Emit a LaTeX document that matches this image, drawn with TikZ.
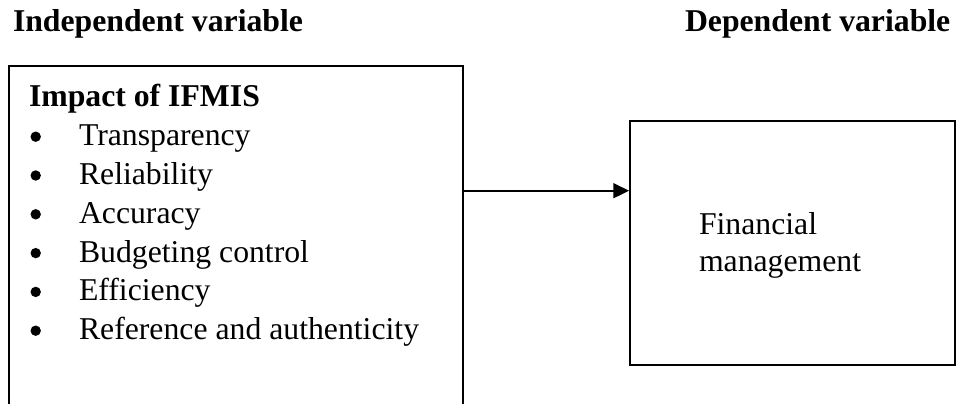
\documentclass[tikz,border=0pt]{standalone}
\usepackage{fontspec}
\setmainfont{Liberation Serif}
\usetikzlibrary{arrows.meta}
\begin{document}
\begin{tikzpicture}[x=0.75pt,y=-0.75pt,
  txt/.style={anchor=base west,inner sep=0pt,outer sep=0pt,font=\fontsize{23.8pt}{28pt}\selectfont},
  btxt/.style={txt,font=\fontsize{23.8pt}{28pt}\selectfont\bfseries},
  frame/.style={line width=1.4pt},
  arr/.style={line width=1.4pt,-{Triangle[length=11.8pt,width=11.2pt]}},
  dot/.style={fill=black}]
\useasboundingbox (0,0) rectangle (956,404);
% titles
\node[btxt] (ivtitle) at (13,31.7) {Independent variable};
\node[btxt] (dvtitle) at (685,31.7) {Dependent variable};
% left box (open at the bottom, runs past the page edge)
\node[inner sep=0pt,outer sep=0pt,minimum width=454.3*0.75pt,minimum height=338*0.75pt] (ivbox) at (236.0,235) {};
\draw[frame] (ivbox.south west) -- (ivbox.north west) -- (ivbox.north east) -- (ivbox.south east);
\node[btxt] (impact) at (29,106.7) {Impact of IFMIS};
\foreach \t [count=\k from 0] in {Transparency,Reliability,Accuracy,Budgeting control,Efficiency,Reference and authenticity}{
  \node[txt] (item\k) at (79,145.7+38.8*\k) {\t};
  \fill[dot] (35.7,136.7+38.8*\k) circle[radius=5.2*0.75pt];
}
% right box
\node[draw,frame,inner sep=0pt,minimum width=325*0.75pt,minimum height=244.3*0.75pt] (fmbox) at (792.5,242.85) {};
\node[txt] (fin) at (699,234.3) {Financial};
\node[txt] (mgmt) at (699,271.7) {management};
% connector
\coordinate (arrowy) at (0,190.7);
\draw[arr] (ivbox.east |- arrowy) -- (fmbox.west |- arrowy);
\end{tikzpicture}
\end{document}
